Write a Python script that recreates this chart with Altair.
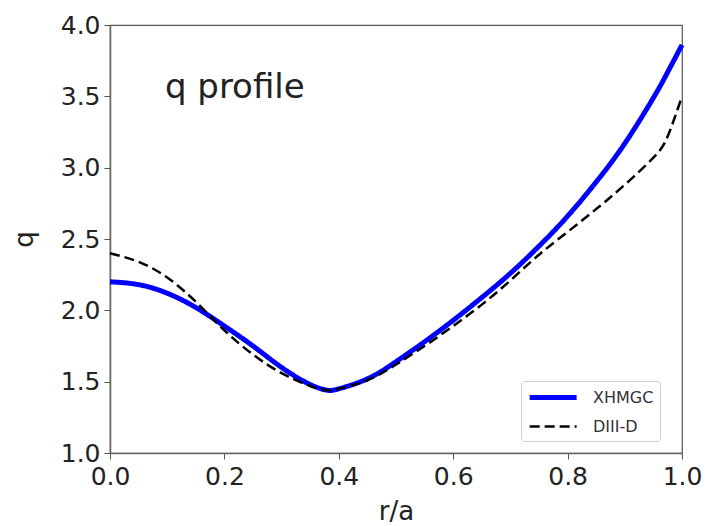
import altair as alt
import pandas as pd

r_vals = [0.0, 0.05, 0.10, 0.15, 0.20, 0.25, 0.30, 0.35, 0.38, 0.40, 0.45, 0.50,
          0.55, 0.60, 0.65, 0.70, 0.75, 0.80, 0.85, 0.90, 0.95, 0.975, 1.0]
q_xhmgc = [2.20, 2.18, 2.12, 2.02, 1.89, 1.75, 1.60, 1.48, 1.44, 1.45, 1.52, 1.64,
           1.78, 1.93, 2.09, 2.26, 2.45, 2.66, 2.90, 3.17, 3.49, 3.67, 3.86]
q_diiid = [2.40, 2.34, 2.23, 2.06, 1.86, 1.69, 1.56, 1.47, 1.44, 1.45, 1.51, 1.62,
           1.75, 1.89, 2.04, 2.21, 2.39, 2.55, 2.71, 2.88, 3.07, 3.22, 3.50]
series = ["XHMGC", "DIII-D"]
title_text = "q profile"

rows = []
for s, qs in zip(series, [q_xhmgc, q_diiid]):
    for r, q in zip(r_vals, qs):
        rows.append({"r": r, "q": q, "series": s})
df = pd.DataFrame(rows)

FONT = "DejaVu Sans"
TXT = "#222222"

x = alt.X("r:Q", title="r/a",
          scale=alt.Scale(domain=[0, 1], nice=False, zero=False),
          axis=alt.Axis(values=[0, 0.2, 0.4, 0.6, 0.8, 1.0], format=".1f",
                        grid=False, tickSize=6, labelPadding=5,
                        labelFontSize=25, titleFontSize=26, titlePadding=9,
                        labelFlush=False))
y = alt.Y("q:Q", title="q",
          scale=alt.Scale(domain=[1, 4], nice=False, zero=False),
          axis=alt.Axis(values=[1.0, 1.5, 2.0, 2.5, 3.0, 3.5, 4.0], format=".1f",
                        grid=False, tickSize=6, labelPadding=4,
                        labelFontSize=25, titleFontSize=26,
                        titleX=-86, titleY=214, titleBaseline="middle",
                        titleAngle=270, labelFlush=False))


def leg():
    return alt.Legend(title=None, orient="none", legendX=411, legendY=356,
                      symbolType="M-1,0H5", symbolSize=245,
                      labelFontSize=16, labelOffset=45,
                      padding=6, rowPadding=9, offset=0,
                      strokeColor="#cccccc", fillColor="white",
                      cornerRadius=3, labelColor="#333333", labelFont=FONT)


lines = alt.Chart(df).mark_line(interpolate="natural").encode(
    x=x, y=y,
    color=alt.Color("series:N", sort=series,
                    scale=alt.Scale(domain=series, range=["#0000ff", "#000000"]),
                    legend=leg()),
    strokeDash=alt.StrokeDash("series:N", sort=series,
                              scale=alt.Scale(domain=series, range=[[1, 0], [10, 5]]),
                              legend=leg()),
    strokeWidth=alt.StrokeWidth("series:N", sort=series,
                                scale=alt.Scale(domain=series, range=[5, 2.5]),
                                legend=leg()),
    order=alt.Order("r:Q"),
)

label_df = pd.DataFrame({"r": [0.096], "q": [3.49], "t": [title_text]})
label = alt.Chart(label_df).mark_text(align="left", baseline="alphabetic",
                                      fontSize=34, font=FONT, color=TXT).encode(
    x="r:Q", y="q:Q", text="t:N")

chart = alt.layer(lines, label).properties(
    width=572, height=428,
    background="white",
    autosize=alt.AutoSizeParams(type="none"),
    padding={"left": 110, "top": 25, "right": 27, "bottom": 73},
).configure_view(stroke="#555555", strokeWidth=1.2).configure_axis(
    domainColor="#666666", tickColor="#555555", domainWidth=1.5,
    labelColor=TXT, titleColor=TXT, labelFont=FONT, titleFont=FONT,
    titleFontWeight="normal",
)

chart.save("out.html", embed_options={"renderer": "svg", "actions": False})
